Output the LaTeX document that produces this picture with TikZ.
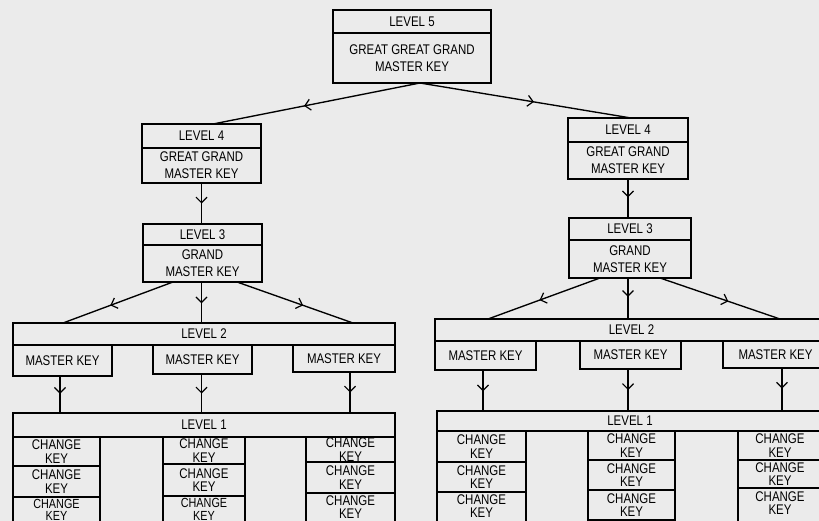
\documentclass[tikz,border=0pt]{standalone}
\usepackage{fontspec}
\setmainfont{Liberation Sans}[FakeStretch=0.82]
\usetikzlibrary{arrows.meta,decorations.markings}
\definecolor{paper}{gray}{0.92}
\tikzset{
  bx/.style={draw, line width=1.35pt, inner sep=0pt, outer sep=0pt, align=center,
    font=\fontsize{14}{15}\selectfont},
  txt/.style={inner sep=0pt, outer sep=0pt, align=center},
  two/.style={font=\fontsize{14}{17}\selectfont},
  ck/.style={font=\fontsize{14}{13.5}\selectfont},
  cks/.style={font=\fontsize{13.2}{12.4}\selectfont},
  midarr/.style={postaction={decorate}, decoration={markings,
    mark=at position #1 with {\arrow{Straight Barb[length=5.5pt,width=11pt,line width=1.2pt]}}}},
  link/.style={line width=1.35pt, midarr=#1},
  link/.default=0.55
}
\begin{document}
\begin{tikzpicture}[x=1pt,y=-1pt]
\useasboundingbox (0,0) rectangle (819,521);
\clip (0,0) rectangle (819,521);
\fill[paper] (0,0) rectangle (819,521);

% Level 5
\node[bx, minimum width=158pt, minimum height=23pt] (l5h) at (412,21.5) {LEVEL 5};
\node[bx, two, minimum width=158pt, minimum height=50pt] (l5b) at (412,58) {GREAT GREAT GRAND\\MASTER KEY};

% Level 4 / 3 left
\node[bx, minimum width=119pt, minimum height=24pt] (l4lh) at (201.5,136) {LEVEL 4};
\node[bx, two, minimum width=119pt, minimum height=35pt] (l4lb) at (201.5,165.5) {GREAT GRAND\\MASTER KEY};
\node[bx, minimum width=119pt, minimum height=21pt] (l3lh) at (202.5,234.5) {LEVEL 3};
\node[bx, two, minimum width=119pt, minimum height=37pt] (l3lb) at (202.5,263.5) {GRAND\\MASTER KEY};

% Level 4 / 3 right
\node[bx, minimum width=120pt, minimum height=24pt] (l4rh) at (628,130) {LEVEL 4};
\node[bx, two, minimum width=120pt, minimum height=37pt] (l4rb) at (628,160.5) {GREAT GRAND\\MASTER KEY};
\node[bx, minimum width=122pt, minimum height=22pt] (l3rh) at (630,229) {LEVEL 3};
\node[bx, two, minimum width=122pt, minimum height=38pt] (l3rb) at (630,259) {GRAND\\MASTER KEY};

% Level 2 left
\node[bx, minimum width=382pt, minimum height=22pt] (l2l) at (204,334) {LEVEL 2};
\node[bx, minimum width=99pt, minimum height=31pt] (mka) at (62.5,360.5) {MASTER KEY};
\node[bx, minimum width=99pt, minimum height=29pt] (mkb) at (202.5,359.5) {MASTER KEY};
\node[bx, minimum width=102pt, minimum height=27pt] (mkc) at (344,358.5) {MASTER KEY};

% Level 2 right
\node[bx, minimum width=393pt, minimum height=22pt] (l2r) at (631.5,330) {LEVEL 2};
\node[bx, minimum width=101pt, minimum height=29pt] (mkd) at (485.5,355.5) {MASTER KEY};
\node[bx, minimum width=101pt, minimum height=28pt] (mke) at (630.5,355) {MASTER KEY};
\node[bx, minimum width=105pt, minimum height=27pt] (mkf) at (775.5,354.5) {MASTER KEY};

% Level 1 left
\node[bx, minimum width=382pt, minimum height=24pt] (l1l) at (204,425) {LEVEL 1};
\node[bx, ck, minimum width=87pt, minimum height=29pt] (ca1) at (56.5,451.5) {CHANGE\\KEY};
\node[bx, ck, minimum width=87pt, minimum height=31pt] (ca2) at (56.5,481.5) {CHANGE\\KEY};
\node[bx, minimum width=87pt, minimum height=32pt] (ca3box) at (56.5,513) {};
\node[txt, cks] (ca3) at (56.5,509.6) {CHANGE\\KEY};
\node[bx, ck, minimum width=82pt, minimum height=27pt] (cb1) at (204,450.5) {CHANGE\\KEY};
\node[bx, ck, minimum width=82pt, minimum height=32pt] (cb2) at (204,480) {CHANGE\\KEY};
\node[bx, minimum width=82pt, minimum height=32pt] (cb3box) at (204,512) {};
\node[txt, cks] (cb3) at (204,509.2) {CHANGE\\KEY};
\node[bx, ck, minimum width=89pt, minimum height=25pt] (cc1) at (350.5,449.5) {CHANGE\\KEY};
\node[bx, ck, minimum width=89pt, minimum height=31pt] (cc2) at (350.5,477.5) {CHANGE\\KEY};
\node[bx, minimum width=89pt, minimum height=34pt] (cc3box) at (350.5,510) {};
\node[txt, ck] (cc3) at (350.5,507) {CHANGE\\KEY};

% Level 1 right
\node[bx, minimum width=386pt, minimum height=20pt] (l1r) at (630,421) {LEVEL 1};
\node[bx, ck, minimum width=89pt, minimum height=31pt] (cd1) at (481.5,446.5) {CHANGE\\KEY};
\node[bx, ck, minimum width=89pt, minimum height=30pt] (cd2) at (481.5,477) {CHANGE\\KEY};
\node[bx, minimum width=89pt, minimum height=38pt] (cd3box) at (481.5,511) {};
\node[txt, ck] (cd3) at (481.5,506) {CHANGE\\KEY};
\node[bx, ck, minimum width=87pt, minimum height=29pt] (ce1) at (631.5,445.5) {CHANGE\\KEY};
\node[bx, ck, minimum width=87pt, minimum height=30pt] (ce2) at (631.5,475) {CHANGE\\KEY};
\node[bx, ck, minimum width=87pt, minimum height=30pt] (ce3) at (631.5,505) {CHANGE\\KEY};
\node[bx, ck, minimum width=84pt, minimum height=29pt] (cf1) at (780,445.5) {CHANGE\\KEY};
\node[bx, ck, minimum width=84pt, minimum height=28pt] (cf2) at (780,474) {CHANGE\\KEY};
\node[bx, minimum width=84pt, minimum height=40pt] (cf3box) at (780,508) {};
\node[txt, ck] (cf3) at (780,503) {CHANGE\\KEY};

% connectors top
\draw[link=0.56] ([xshift=8pt]l5b.south) -- ([xshift=11.5pt]l4lh.north);
\draw[link=0.54] ([xshift=8pt]l5b.south) -- ([xshift=3pt]l4rh.north);
\draw[link=0.5] (l4lb.south) -- (l4lb.south |- l3lh.north);
\draw[link=0.47] (l4rb.south) -- (l4rb.south |- l3rh.north);

% level 3 -> level 2
\draw[link=0.57] ([xshift=-29.5pt]l3lb.south) -- ([xshift=-141pt]l2l.north);
\draw[link=0.52] ([xshift=-1pt]l3lb.south) -- ([xshift=-1pt]l3lb.south |- l2l.north);
\draw[link=0.57] ([xshift=34.5pt]l3lb.south) -- ([xshift=149pt]l2l.north);
\draw[link=0.54] ([xshift=-30pt]l3rb.south) -- ([xshift=-143.5pt]l2r.north);
\draw[link=0.46] ([xshift=-2pt]l3rb.south) -- ([xshift=-2pt]l3rb.south |- l2r.north);
\draw[link=0.57] ([xshift=30pt]l3rb.south) -- ([xshift=148.5pt]l2r.north);

% master keys -> level 1
\draw[link=0.48] ([xshift=-2.5pt]mka.south) -- ([xshift=-2.5pt]mka.south |- l1l.north);
\draw[link=0.5] ([xshift=-1pt]mkb.south) -- ([xshift=-1pt]mkb.south |- l1l.north);
\draw[link=0.5] ([xshift=6pt]mkc.south) -- ([xshift=6pt]mkc.south |- l1l.north);
\draw[link=0.52] ([xshift=-2.5pt]mkd.south) -- ([xshift=-2.5pt]mkd.south |- l1r.north);
\draw[link=0.5] ([xshift=-2.5pt]mke.south) -- ([xshift=-2.5pt]mke.south |- l1r.north);
\draw[link=0.48] ([xshift=6.5pt]mkf.south) -- ([xshift=6.5pt]mkf.south |- l1r.north);
\end{tikzpicture}
\end{document}
